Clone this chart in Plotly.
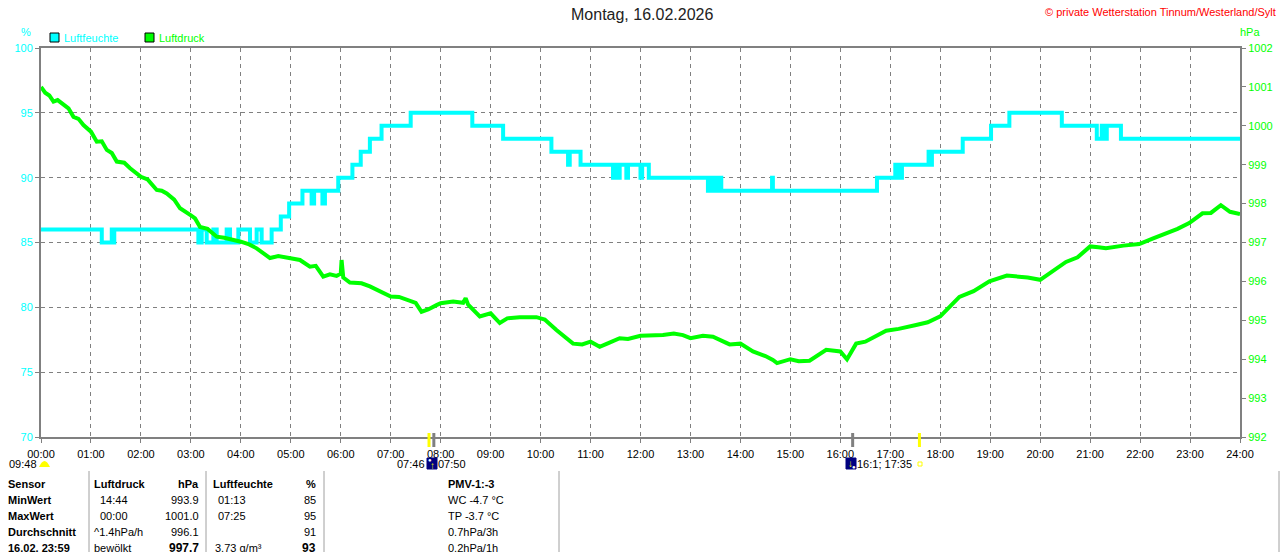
import plotly.graph_objects as go

# Luftdruck (hPa)
p_time = ["00:00", "00:05", "00:10", "00:15", "00:20", "00:27", "00:33", "00:39", "00:45", "00:51",
          "01:00", "01:07", "01:13", "01:19", "01:25", "01:31", "01:40", "01:47", "02:00", "02:08",
          "02:19", "02:25", "02:31", "02:40", "02:47", "03:00", "03:05", "03:11", "03:20", "03:31",
          "03:40", "04:00", "04:10", "04:19", "04:35", "04:45", "05:00", "05:11", "05:23", "05:30",
          "05:39", "05:47", "05:55", "06:00", "06:01", "06:03", "06:11", "06:25", "06:35", "06:47",
          "07:00", "07:10", "07:19", "07:30", "07:37", "07:45", "07:55", "08:00", "08:15", "08:27",
          "08:30", "08:33", "08:47", "09:00", "09:11", "09:20", "09:35", "09:55", "10:05", "10:19",
          "10:39", "10:50", "11:00", "11:11", "11:20", "11:35", "11:45", "12:00", "12:27", "12:40",
          "12:51", "13:00", "13:15", "13:27", "13:47", "14:00", "14:15", "14:30", "14:39", "14:44",
          "15:00", "15:10", "15:23", "15:43", "16:00", "16:08", "16:19", "16:30", "16:55", "17:10",
          "17:31", "17:45", "18:00", "18:23", "18:40", "18:59", "19:20", "19:35", "19:45", "20:00",
          "20:15", "20:31", "20:45", "21:00", "21:10", "21:19", "21:40", "21:59", "22:15", "22:31",
          "22:45", "22:59", "23:15", "23:25", "23:37", "23:48", "24:00"]
p_val = [1001.0, 1000.85, 1000.78, 1000.62, 1000.66, 1000.53, 1000.45, 1000.23, 1000.18, 1000.02,
         999.85, 999.59, 999.6, 999.38, 999.3, 999.08, 999.05, 998.91, 998.69, 998.62,
         998.35, 998.33, 998.26, 998.1, 997.88, 997.7, 997.62, 997.4, 997.35, 997.15,
         997.12, 997.02, 996.95, 996.85, 996.6, 996.65, 996.6, 996.55, 996.38, 996.4,
         996.12, 996.18, 996.14, 996.2, 996.55, 996.1, 995.97, 995.95, 995.87, 995.74,
         995.61, 995.6, 995.52, 995.45, 995.22, 995.28, 995.39, 995.44, 995.48, 995.45,
         995.57, 995.4, 995.1, 995.18, 994.93, 995.05, 995.08, 995.08, 995.02, 994.75,
         994.4, 994.38, 994.45, 994.32, 994.4, 994.54, 994.52, 994.6, 994.62, 994.66,
         994.62, 994.54, 994.6, 994.58, 994.38, 994.4, 994.2, 994.08, 993.98, 993.9,
         994.0, 993.95, 993.96, 994.24, 994.2, 994.0, 994.4, 994.45, 994.73, 994.78,
         994.88, 994.95, 995.1, 995.6, 995.75, 996.0, 996.15, 996.12, 996.1, 996.04,
         996.25, 996.5, 996.62, 996.9, 996.88, 996.85, 996.92, 996.96, 997.1, 997.23,
         997.35, 997.5, 997.75, 997.76, 997.96, 997.79, 997.73]

# Luftfeuchte (%), step values
h_time = ["00:00", "01:13", "01:25", "01:27", "01:28", "03:09", "03:13", "03:19", "03:27", "03:31",
          "03:43", "03:47", "03:57", "04:11", "04:19", "04:25", "04:37", "04:48", "04:58", "05:14",
          "05:25", "05:28", "05:38", "05:41", "05:57", "06:14", "06:24", "06:35", "06:49", "07:24",
          "08:38", "09:15", "10:13", "10:33", "10:35", "10:48", "11:27", "11:30", "11:33", "11:35",
          "11:43", "11:45", "12:00", "12:02", "12:10", "13:21", "13:25", "13:28", "13:31", "13:34",
          "13:35", "13:37", "14:38", "14:39", "16:44", "17:06", "17:08", "17:10", "17:12", "17:14",
          "17:46", "17:48", "17:50", "18:27", "19:01", "19:23", "20:26", "21:08", "21:14", "21:16",
          "21:20", "21:37", "24:00"]
h_val = [86, 85, 86, 85, 86, 85, 86, 85, 86, 85,
         86, 85, 86, 85, 86, 85, 86, 87, 88, 89,
         88, 89, 88, 89, 90, 91, 92, 93, 94, 95,
         94, 93, 92, 91, 92, 91, 90, 91, 90, 91,
         90, 91, 90, 91, 90, 89, 90, 89, 90, 89,
         90, 89, 90, 89, 90, 91, 90, 91, 90, 91,
         92, 91, 92, 93, 94, 95, 94, 93, 94, 93,
         94, 93, 93]

hour_labels = ["%02d:00" % h for h in range(25)]
sun_times = ["07:46", "17:35"]
moon_times = ["07:50", "16:13"]

tbl_rows = ["MinWert", "MaxWert", "Durchschnitt", "16.02. 23:59"]
druck_info = ["14:44", "00:00", "^1.4hPa/h", "bewölkt"]
druck_val = ["993.9", "1001.0", "996.1", "997.7"]
feuchte_info = ["01:13", "07:25", "", "3.73 g/m³"]
feuchte_val = ["85", "95", "91", "93"]
pmv_info = ["WC -4.7 °C", "TP -3.7 °C", "0.7hPa/3h", "0.2hPa/1h"]

W, H = 1280, 552
L, R, T, B = 41, 40, 48, 115
FONT = "Liberation Sans, Arial, sans-serif"
CYAN = "#00ffff"
GREEN = "#00ff00"
GREY = "#808080"


def hrs(t):
    h, m = t.split(":")
    return int(h) + int(m) / 60


def px(x):
    return (x - L) / (W - L - R)


def py(y):
    return (H - B - y) / (H - T - B)


fig = go.Figure()

fig.add_trace(go.Scatter(
    x=[hrs(t) for t in h_time], y=h_val, mode="lines", name="Luftfeuchte",
    line=dict(color=CYAN, width=4, shape="hv"), yaxis="y"))
fig.add_trace(go.Scatter(
    x=[hrs(t) for t in p_time], y=p_val, mode="lines", name="Luftdruck",
    line=dict(color=GREEN, width=4), yaxis="y2"))

ann = []
shapes = []


def text(x, y, s, color="black", size=11, anchor="left", bold=False):
    if bold:
        s = "<b>" + s + "</b>"
    ann.append(dict(x=px(x), y=py(y), xref="paper", yref="paper", text=s, showarrow=False,
                    xanchor=anchor, yanchor="middle", borderpad=0,
                    font=dict(family=FONT, size=size, color=color)))


def box(x0, y0, x1, y1, fill, line="black", lw=1):
    shapes.append(dict(type="rect", xref="paper", yref="paper", x0=px(x0), x1=px(x1),
                       y0=py(y1), y1=py(y0), fillcolor=fill, line=dict(color=line, width=lw)))


# header texts
text(642, 15, "Montag, 16.02.2026", color="#222222", size=16, anchor="center")
text(1277, 12, "© private Wetterstation Tinnum/Westerland/Sylt", color="#ff0000", size=11, anchor="right")
text(26, 32, "%", color=CYAN, size=11, anchor="center")
text(1250, 32, "hPa", color=GREEN, size=11, anchor="center")

# legend
box(50, 33, 59, 42, CYAN)
text(63, 38, "Luftfeuchte", color=CYAN)
box(145, 33, 154, 42, GREEN)
text(158, 38, "Luftdruck", color=GREEN)

# sun / moon marks on the time axis
for t in sun_times:
    shapes.append(dict(type="line", xref="x", yref="paper", x0=hrs(t), x1=hrs(t),
                       y0=py(447), y1=py(433), line=dict(color="#ffff00", width=3)))
for t in moon_times:
    shapes.append(dict(type="line", xref="x", yref="paper", x0=hrs(t) + 0.03, x1=hrs(t) + 0.03,
                       y0=py(447), y1=py(433), line=dict(color=GREY, width=3)))

# row under the axis
text(8, 464, "09:48")
shapes.append(dict(type="path", xref="paper", yref="paper", fillcolor="#ffff00", line=dict(width=0),
                   path="M %f,%f Q %f,%f %f,%f Z" % (px(39), py(467), px(44.5), py(455), px(50), py(467))))
text(426, 464, "07:46", anchor="right")
box(427, 458, 437, 469, "#000080", line="#000080")
text(432, 465, "↑", color="#ffff00", size=10, anchor="center")
text(430, 460, "●", color="white", size=6, anchor="center")
text(437, 464, "07:50")
box(846, 458, 856, 469, "#000080", line="#000080")
text(850, 463, "↓", color="#ffff00", size=10, anchor="center")
text(854, 467, "●", color="white", size=6, anchor="center")
text(856, 464, "16:1; 17:35")
box(918, 462, 922, 466, "white", line="#ffff00")

# table
for sx in [89, 206, 324, 559, 1279]:
    shapes.append(dict(type="line", xref="paper", yref="paper", x0=px(sx), x1=px(sx),
                       y0=py(471), y1=py(552), line=dict(color="#a0a0a0", width=1)))

text(7, 484, "Sensor", bold=True)
text(93, 484, "Luftdruck", bold=True)
text(200, 484, "hPa", bold=True, anchor="right")
text(212, 484, "Luftfeuchte", bold=True)
text(317, 484, "%", bold=True, anchor="right")
text(447, 484, "PMV-1:-3", bold=True)
for i in range(4):
    ry = 500 + 16 * i
    last = i == 3
    text(7, ry, tbl_rows[i], bold=True)
    text(99 if i < 2 else 93, ry, druck_info[i])
    text(200, ry, druck_val[i], anchor="right", bold=last, size=12 if last else 11)
    text(217 if i < 2 else 214, ry, feuchte_info[i])
    text(317, ry, feuchte_val[i], anchor="right", bold=last, size=12 if last else 11)
    text(447, ry, pmv_info[i])

fig.update_layout(
    width=W, height=H,
    margin=dict(l=L, r=R, t=T, b=B, autoexpand=False),
    paper_bgcolor="white", plot_bgcolor="white",
    showlegend=False,
    annotations=ann, shapes=shapes,
    xaxis=dict(range=[0, 24], tickvals=list(range(25)), ticktext=hour_labels,
               showgrid=True, gridcolor=GREY, griddash="4px,4px", gridwidth=1,
               showline=True, linecolor=GREY, linewidth=2, mirror=True,
               ticks="outside", ticklen=4, tickcolor=GREY, ticklabelstandoff=2,
               zeroline=False, tickfont=dict(family=FONT, size=11, color="black")),
    yaxis=dict(range=[70, 100], tickvals=[70, 75, 80, 85, 90, 95, 100],
               showgrid=True, gridcolor=GREY, griddash="4px,4px", gridwidth=1,
               showline=True, linecolor=GREY, linewidth=2,
               ticks="outside", ticklen=4, tickcolor=GREY,
               zeroline=False, tickfont=dict(family=FONT, size=11, color=CYAN)),
    yaxis2=dict(range=[992, 1002], tickvals=list(range(992, 1003)), overlaying="y", side="right",
                showgrid=False, showline=True, linecolor=GREY, linewidth=2,
                ticks="outside", ticklen=4, tickcolor=GREY,
                zeroline=False, tickfont=dict(family=FONT, size=11, color=GREEN)),
)

# the page's default body margin would shift the figure
fig.write_html("out.html", config={"displayModeBar": False},
               post_script="document.body.style.margin='0';")
